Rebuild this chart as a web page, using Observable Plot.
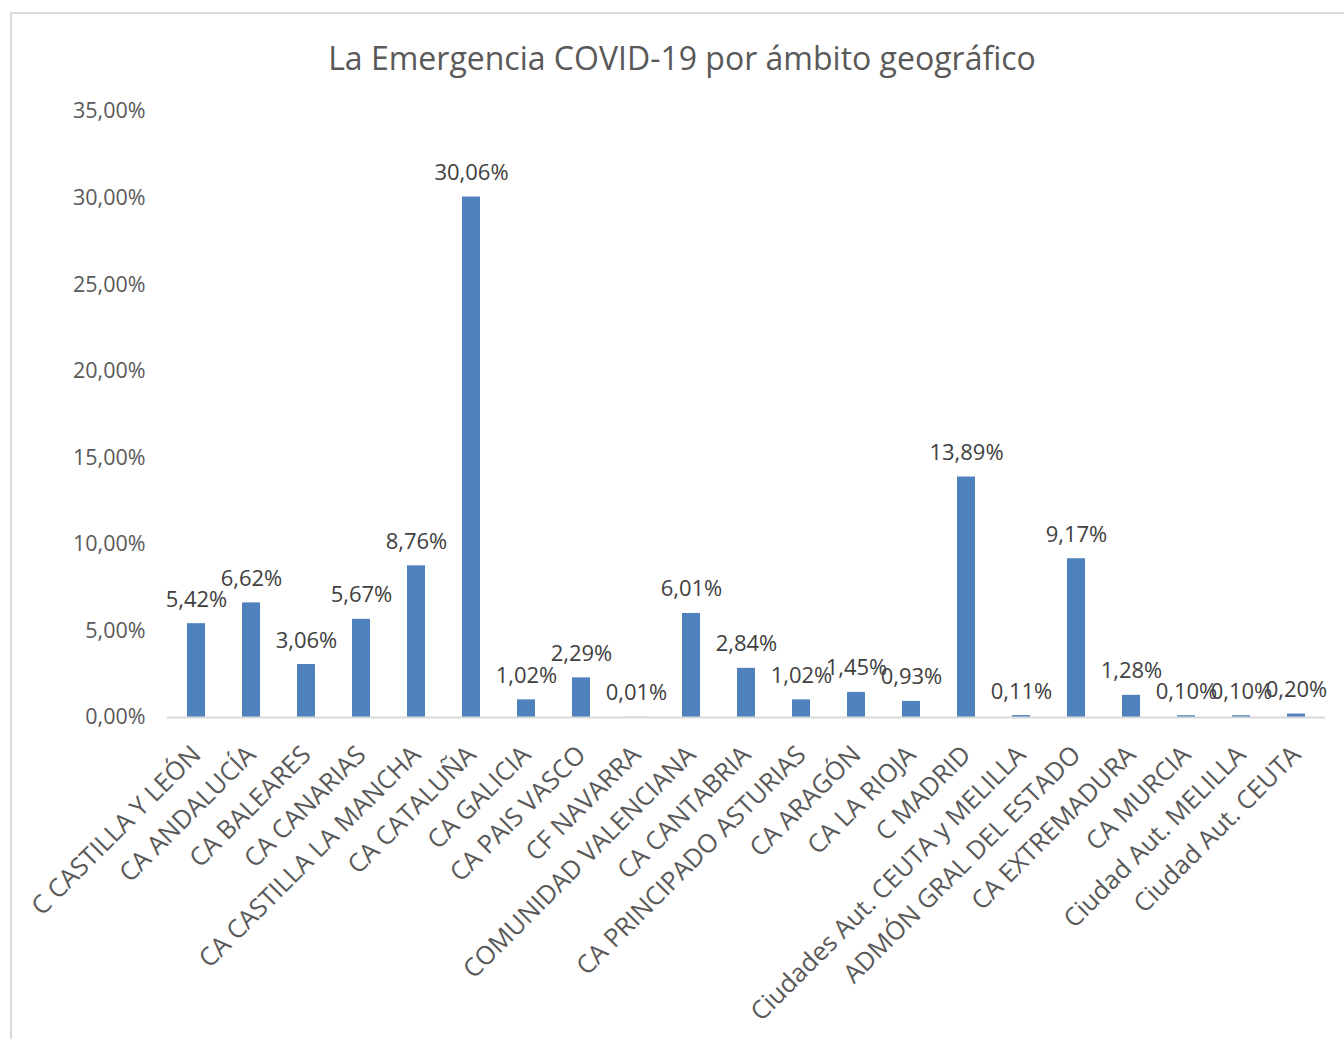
<!DOCTYPE html>
<html>
<head>
<meta charset="utf-8">
<script src="https://cdn.jsdelivr.net/npm/d3@7"></script>
<script src="https://cdn.jsdelivr.net/npm/@observablehq/plot@0.6"></script>
<style>
  body { margin: 0; background: #fff; width: 1344px; height: 1039px; overflow: hidden; position: relative; font-family: "Open Sans", sans-serif; }
  #frame { position: absolute; left: 10px; top: 12px; width: 1400px; height: 1100px; border-left: 2px solid #d9d9d9; border-top: 2px solid #d9d9d9; box-sizing: border-box; }
  #title { position: relative; height: 90px; box-sizing: border-box; padding-top: 38px; padding-left: 20px; line-height: 40px; text-align: center; font-size: 32px; color: #595959; font-family: "Open Sans", sans-serif; }
  #chart { position: relative; }
</style>
</head>
<body>
<div id="frame"></div>
<div id="title">La Emergencia COVID-19 por ámbito geográfico</div>
<div id="chart"></div>
<script>
const categories = [
  "C CASTILLA Y LEÓN", "CA ANDALUCÍA", "CA BALEARES", "CA CANARIAS", "CA CASTILLA LA MANCHA",
  "CA CATALUÑA", "CA GALICIA", "CA PAIS VASCO", "CF NAVARRA", "COMUNIDAD VALENCIANA",
  "CA CANTABRIA", "CA PRINCIPADO ASTURIAS", "CA ARAGÓN", "CA LA RIOJA", "C MADRID",
  "Ciudades Aut. CEUTA y MELILLA", "ADMÓN GRAL DEL ESTADO", "CA EXTREMADURA", "CA MURCIA",
  "Ciudad Aut. MELILLA", "Ciudad Aut. CEUTA"
];
const values = [5.42, 6.62, 3.06, 5.67, 8.76, 30.06, 1.02, 2.29, 0.01, 6.01, 2.84, 1.02, 1.45, 0.93, 13.89, 0.11, 9.17, 1.28, 0.10, 0.10, 0.20];
const yTicks = [0, 5, 10, 15, 20, 25, 30, 35];

const data = categories.map((c, i) => ({category: c, value: values[i]}));
const fmt = v => v.toFixed(2).replace(".", ",") + "%";

const chart = Plot.plot({
  width: 1344,
  height: 949,
  marginLeft: 167,
  marginRight: 19,
  marginTop: 21,
  marginBottom: 322,
  style: { fontFamily: "Open Sans, sans-serif", background: "transparent" },
  x: { type: "band", domain: categories, paddingInner: 0.67, paddingOuter: 0.335, label: null },
  y: { domain: [0, 35], label: null },
  marks: [
    Plot.barY(data, { x: "category", y: "value", fill: "#4f81bd" }),
    Plot.ruleY([0], { stroke: "#d9d9d9", strokeWidth: 2 }),
    Plot.text(data, { x: "category", y: "value", text: d => fmt(d.value), dy: -24, fontSize: 22, fill: "#404040" }),
    Plot.axisY({ ticks: yTicks, tickFormat: fmt, tickSize: 0, tickPadding: 22, fontSize: 21.5, color: "#595959", label: null }),
    Plot.axisX({ tickRotate: -45, tickSize: 0, tickPadding: 33, fontSize: 25.5, color: "#595959", label: null })
  ]
});
document.getElementById("chart").appendChild(chart);
</script>
</body>
</html>
